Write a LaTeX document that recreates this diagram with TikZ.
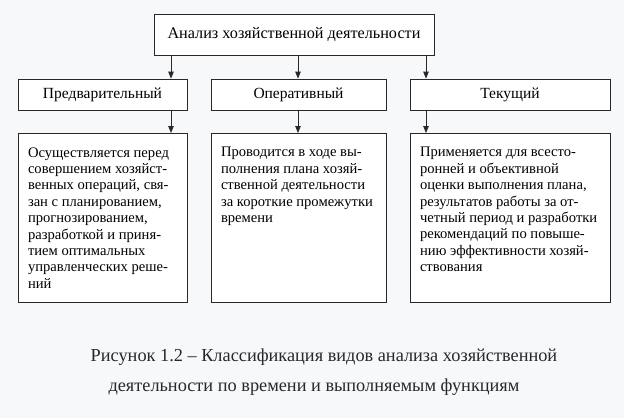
\documentclass[tikz,border=0pt]{standalone}
\usepackage{fontspec}
\setmainfont{Liberation Serif}
\usepackage{tikz}
\usetikzlibrary{arrows.meta, calc}
\definecolor{paper}{RGB}{247,248,250}
\definecolor{ink}{RGB}{40,40,40}

\begin{document}
\begin{tikzpicture}[
    x=1pt,
    y=-1pt,
    box/.style={draw=ink, line width=0.8pt, fill=white, inner sep=0pt},
    head/.style={box, font=\fontsize{15.5}{18}\selectfont},
    desc/.style={box, inner xsep=10pt, inner ysep=14pt, font=\fontsize{14.6}{16.4}\selectfont},
    arr/.style={draw=ink, line width=0.8pt, -{Triangle[length=7pt,width=5.5pt]}},
    capt/.style={font=\fontsize{18.3}{21}\selectfont, text=ink}
]
\fill[paper] (0,0) rectangle (624,418);
\useasboundingbox (0,0) rectangle (624,418);

% --- Top ---
\node[head, minimum width=280, minimum height=41, font=\fontsize{16.2}{19}\selectfont] (anl) at (294,34.5) {Анализ хозяйственной деятельности};

% --- Kinds ---
\node[head, minimum width=169, minimum height=31] (pre) at (102.5,94.5) {Предварительный};
\node[head, minimum width=175, minimum height=31] (ope) at (298.5,94.5) {Оперативный};
\node[head, minimum width=200, minimum height=31] (cur) at (510,94.5) {Текущий};

% --- Descriptions ---
\node[desc, anchor=north] (pretxt) at (102.5,133) {\parbox[t][141pt][t]{149pt}{\raggedright
Осуществляется перед\\
совершением хозяйст-\\
венных операций, свя-\\
зан с планированием,\\
прогнозированием,\\
разработкой и приня-\\
тием оптимальных\\
управленческих реше-\\
ний}};

\node[desc, anchor=north] (opetxt) at (298.5,133) {\parbox[t][141pt][t]{155pt}{\raggedright
Проводится в ходе вы-\\
полнения плана хозяй-\\
ственной деятельности\\
за короткие промежутки\\
времени}};

\node[desc, anchor=north] (curtxt) at (510,133) {\parbox[t][141pt][t]{180pt}{\raggedright
Применяется для всесто-\\
ронней и объективной\\
оценки выполнения плана,\\
результатов работы за от-\\
четный период и разработки\\
рекомендаций по повыше-\\
нию эффективности хозяй-\\
ствования}};

% --- Arrows ---
\coordinate (c1) at (171,0);
\coordinate (c2) at (298,0);
\coordinate (c3) at (426,0);

\draw[arr] (anl.south -| c1) -- (pre.north -| c1);
\draw[arr] (anl.south -| c2) -- (ope.north -| c2);
\draw[arr] (anl.south -| c3) -- (cur.north -| c3);

\draw[arr] (pre.south -| c1) -- (pretxt.north -| c1);
\draw[arr] (ope.south -| c2) -- (opetxt.north -| c2);
\draw[arr] (cur.south -| c3) -- (curtxt.north -| c3);

% --- Caption ---
\node[capt] (cap1) at (324,357) {Рисунок 1.2 – Классификация видов анализа хозяйственной};
\node[capt] (cap2) at (314,387) {деятельности по времени и выполняемым функциям};
\end{tikzpicture}
\end{document}
